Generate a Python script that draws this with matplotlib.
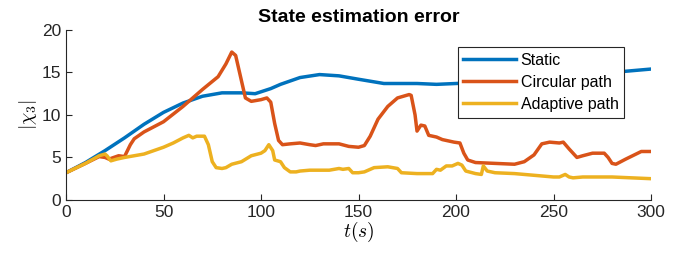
import matplotlib
matplotlib.use('Agg')
import matplotlib.pyplot as plt

plt.rcParams['font.family'] = ['Liberation Sans', 'DejaVu Sans']
plt.rcParams['mathtext.fontset'] = 'cm'

# Static
t_static = [0, 10, 20, 30, 40, 50, 60, 70, 80, 90, 97, 105, 110, 120, 130, 140, 150,
            163, 180, 190, 200, 220, 250, 270, 290, 300]
e_static = [3.2, 4.4, 5.8, 7.3, 8.9, 10.3, 11.4, 12.2, 12.6, 12.6, 12.5, 13.1, 13.6, 14.4,
            14.75, 14.6, 14.2, 13.7, 13.7, 13.6, 13.7, 13.9, 14.4, 14.8, 15.2, 15.4]

# Circular path
t_circ = [0, 10, 17, 20, 22, 27, 30, 33, 35, 40, 50, 60, 70, 78, 82, 85, 87, 90, 92, 95,
          100, 103, 105, 107, 109, 111, 115, 120, 125, 128, 132, 140, 145, 150, 153, 156,
          160, 165, 170, 176, 177, 179, 180, 182, 184, 186, 190, 193, 199, 202, 204, 206,
          210, 220, 230, 235, 240, 244, 248, 253, 255, 258, 262, 265, 270, 276, 278, 280,
          282, 287, 295, 300]
e_circ = [3.2, 4.3, 5.1, 5.0, 4.8, 5.2, 5.1, 6.5, 7.2, 8.0, 9.2, 11.0, 13.0, 14.5, 16.0,
          17.4, 17.0, 14.0, 12.0, 11.6, 11.8, 12.0, 11.5, 9.0, 7.0, 6.5, 6.6, 6.7, 6.5, 6.4,
          6.6, 6.6, 6.3, 6.2, 6.4, 7.5, 9.5, 11.0, 12.0, 12.4, 12.3, 10.0, 8.1, 8.8, 8.7,
          7.6, 7.4, 7.1, 6.8, 6.7, 5.5, 4.7, 4.4, 4.3, 4.2, 4.5, 5.3, 6.6, 6.8, 6.7, 6.8,
          6.0, 5.0, 5.2, 5.5, 5.5, 5.0, 4.3, 4.2, 4.8, 5.7, 5.7]

# Adaptive path
t_adapt = [0, 10, 17, 20, 21, 23, 26, 30, 35, 40, 50, 55, 60, 63, 65, 67, 71, 73, 75, 77,
           80, 82, 85, 90, 95, 100, 102, 104, 106, 107, 110, 112, 115, 118, 120, 125, 130,
           135, 140, 142, 145, 147, 150, 153, 158, 165, 170, 172, 180, 188, 190, 192, 195,
           198, 201, 203, 205, 210, 213, 214, 216, 220, 230, 240, 250, 253, 256, 258, 260,
           265, 280, 290, 300]
e_adapt = [3.2, 4.3, 5.2, 5.4, 5.2, 4.6, 4.8, 5.0, 5.2, 5.4, 6.2, 6.7, 7.3, 7.6, 7.3, 7.5,
           7.5, 6.5, 4.5, 3.8, 3.7, 3.8, 4.2, 4.5, 5.2, 5.5, 5.8, 6.5, 5.8, 4.7, 4.5, 3.8,
           3.3, 3.3, 3.4, 3.5, 3.5, 3.5, 3.7, 3.6, 3.7, 3.2, 3.2, 3.3, 3.8, 3.9, 3.7, 3.2,
           3.1, 3.1, 3.6, 3.5, 4.0, 4.0, 4.3, 4.1, 3.4, 3.1, 3.0, 4.0, 3.4, 3.2, 3.1, 2.9,
           2.7, 2.7, 3.0, 2.7, 2.6, 2.7, 2.7, 2.6, 2.5]

fig = plt.figure(figsize=(6.79, 2.56), dpi=100)
ax = fig.add_axes([0.0972, 0.219, 0.8616, 0.664])

ax.plot(t_static, e_static, color='#0072BD', lw=2.5, label='Static')
ax.plot(t_circ, e_circ, color='#D95319', lw=2.5, label='Circular path')
ax.plot(t_adapt, e_adapt, color='#EDB120', lw=2.5, label='Adaptive path')

ax.set_xlim(0, 300)
ax.set_ylim(0, 20)
ax.set_xticks([0, 50, 100, 150, 200, 250, 300])
ax.set_yticks([0, 5, 10, 15, 20])
ax.spines['top'].set_visible(False)
ax.spines['right'].set_visible(False)
for s in ['left', 'bottom']:
    ax.spines[s].set_color('#262626')
    ax.spines[s].set_linewidth(0.8)
ax.tick_params(direction='in', length=4, width=0.8, colors='#262626', labelsize=12.5)

ax.set_title('State estimation error', fontsize=14, fontweight='bold', pad=6)
ax.set_xlabel('$t(s)$', fontsize=14, labelpad=0)
ax.set_ylabel('$|\\chi_3|$', fontsize=14, labelpad=2)

leg = ax.legend(loc='upper right', bbox_to_anchor=(0.954, 0.9), fontsize=11.5,
                frameon=True, fancybox=False, handlelength=3.3, borderpad=0.35,
                labelspacing=0.45, handletextpad=0.3, borderaxespad=0)
leg.get_frame().set_edgecolor('#262626')
leg.get_frame().set_linewidth(0.8)
leg.get_frame().set_alpha(1)

fig.savefig('out.png', dpi=100)
